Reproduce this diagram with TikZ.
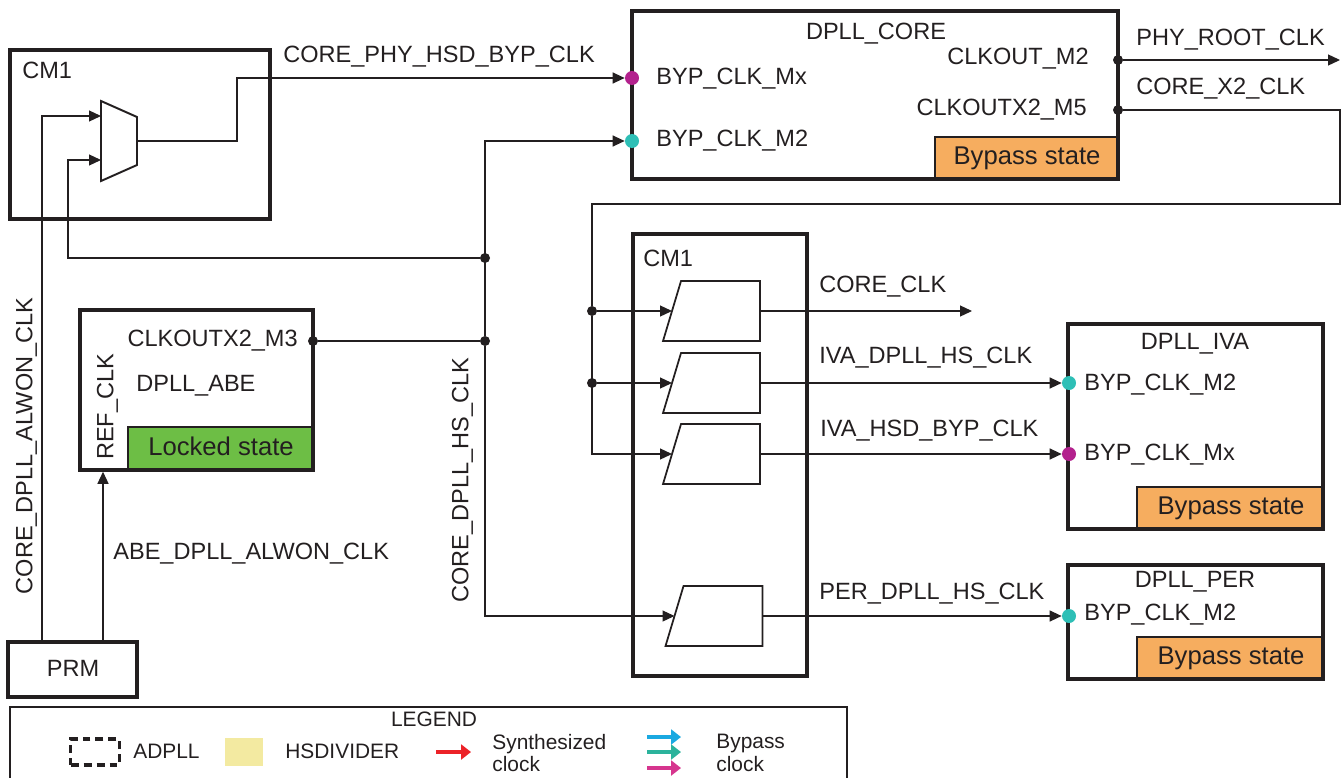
\documentclass[tikz,border=0pt]{standalone}
\usepackage{fontspec}
\setmainfont{Liberation Sans}
\usetikzlibrary{arrows.meta, positioning, fit}
\definecolor{ink}{HTML}{231F20}
\definecolor{bypassorange}{HTML}{F6AD5F}
\definecolor{lockedgreen}{HTML}{6DBE45}
\definecolor{pinmagenta}{HTML}{B3218D}
\definecolor{pincyan}{HTML}{2EBFB6}
\definecolor{hsdivyellow}{HTML}{F3EAA1}
\definecolor{synthred}{HTML}{EC2228}
\definecolor{bypblue}{HTML}{1AA9E1}
\definecolor{bypteal}{HTML}{2BB39C}
\definecolor{byppink}{HTML}{D6358E}
\newcommand{\lblfont}{\fontsize{13.4}{16}\selectfont}
\newcommand{\statefont}{\fontsize{14.6}{17}\selectfont}
\newcommand{\legfont}{\fontsize{11.9}{12.8}\selectfont}
\tikzstyle{block}    = [rectangle, draw=ink, line width=2pt, inner sep=0pt]
\tikzstyle{statebox} = [rectangle, draw=ink, line width=0.8pt, inner sep=0pt]
\tikzstyle{lbl}      = [inner sep=0pt, text height=0.716em, text depth=0pt]
\tikzstyle{statelbl} = [lbl, font=\statefont]
\tikzstyle{pinmx}    = [circle, fill=pinmagenta, inner sep=0pt, minimum size=0.28cm]
\tikzstyle{pinmtwo}  = [circle, fill=pincyan, inner sep=0pt, minimum size=0.28cm]
\tikzstyle{dot}      = [circle, fill=ink, inner sep=0pt, minimum size=0.2cm]
\tikzstyle{hsdiv}    = [rectangle, inner sep=0pt, outer sep=0pt, minimum width=1.94cm, minimum height=1.2cm]
\tikzstyle{hsdivline}= [draw=ink, line width=1pt, line join=miter]
\tikzstyle{wire}     = [draw=ink, line width=0.7pt]
\tikzstyle{arrow}    = [wire, -{Triangle[length=0.24cm, width=0.22cm]}]
\tikzstyle{legarrow} = [line width=1.8pt, -{Triangle[length=0.2cm, width=0.3cm]}]

\begin{document}
\begin{tikzpicture}[x=0.02cm, y=-0.02cm, every node/.style={font=\lblfont, text=ink}]
  \useasboundingbox (0,0) rectangle (1344,777);

  % State boxes
  \node (coreByp) [statebox, fill=bypassorange, fit={(935,137) (1118,179)}] {};
  \node (abeLock) [statebox, fill=lockedgreen, fit={(128,427) (313,470)}] {};
  \node (ivaByp)  [statebox, fill=bypassorange, fit={(1137,487) (1323,529)}] {};
  \node (perByp)  [statebox, fill=bypassorange, fit={(1137,637) (1323,679)}] {};
  \node (coreBypLbl) [statelbl] at (1027,158) {Bypass state};
  \node (abeLockLbl) [statelbl] at (221,449)  {Locked state};
  \node (ivaBypLbl)  [statelbl] at (1231,508) {Bypass state};
  \node (perBypLbl)  [statelbl] at (1231,658) {Bypass state};

  % Blocks
  \node (cmA)  [block, fit={(10,50) (270,219)}] {};
  \node (core) [block, fit={(632,11) (1118,179)}] {};
  \node (abe)  [block, fit={(80,310) (313,470)}] {};
  \node (cmB)  [block, fit={(633,234) (807,676)}] {};
  \node (iva)  [block, fit={(1068,324) (1323,529)}] {};
  \node (per)  [block, fit={(1068,565) (1323,679)}] {};
  \node (prm)  [block, fit={(8,642) (137,697)}] {};
  \node (prmlbl) [lbl] at (73,670) {PRM};

  % Mux in CM1
  \draw[draw=ink, line width=1.1pt] (101,101) -- (137,117) -- (137,165) -- (101,181) -- cycle;
  \coordinate (muxa)   at (101,116);
  \coordinate (muxb)   at (101,160);
  \coordinate (muxout) at (137,141);

  % HS dividers in CM1
  \foreach \n/\x/\y in {d1/711.5/311, d2/711.5/383, d3/711.5/454, d4/714/616} {
    \node (\n) [hsdiv] at (\x,\y) {};
    \draw[hsdivline] ([xshift=0.36cm]\n.north west) -- (\n.north east)
      -- (\n.south east) -- (\n.south west) -- cycle;
  }

  % Block labels
  \node (cmAlbl)  [lbl, anchor=west] at (22,72)    {CM1};
  \node (cmBlbl)  [lbl, anchor=west] at (643,260)  {CM1};
  \node (corelbl) [lbl]              at (876,33)   {DPLL\_CORE};
  \node (abelbl)  [lbl, anchor=west] at (136,385)  {DPLL\_ABE};
  \node (ivalbl)  [lbl]              at (1195,343) {DPLL\_IVA};
  \node (perlbl)  [lbl]              at (1195,581) {DPLL\_PER};

  % Port labels
  \node (coreMxlbl) [lbl, anchor=west] at (656,78)   {BYP\_CLK\_Mx};
  \node (coreM2lbl) [lbl, anchor=west] at (656,140)  {BYP\_CLK\_M2};
  \node (m2outlbl)  [lbl, anchor=east] at (1089,58)  {CLKOUT\_M2};
  \node (m5outlbl)  [lbl, anchor=east] at (1087,109) {CLKOUTX2\_M5};
  \node (m3outlbl)  [lbl, anchor=east] at (298,340)  {CLKOUTX2\_M3};
  \node (reflbl)    [lbl, rotate=90]   at (107,407)  {REF\_CLK};
  \node (ivaM2lbl)  [lbl, anchor=west] at (1084,384) {BYP\_CLK\_M2};
  \node (ivaMxlbl)  [lbl, anchor=west] at (1084,454) {BYP\_CLK\_Mx};
  \node (perM2lbl)  [lbl, anchor=west] at (1084,614) {BYP\_CLK\_M2};

  % Pins and junctions
  \node (coreMx)   [pinmx]   at (632,78)   {};
  \node (coreM2)   [pinmtwo] at (632,141)  {};
  \node (coreOut2) [dot]     at (1118,60)  {};
  \node (coreOut5) [dot]     at (1118,110) {};
  \node (abeOut)   [dot]     at (313,341)  {};
  \node (ivaM2)    [pinmtwo] at (1069,383) {};
  \node (ivaMx)    [pinmx]   at (1069,454) {};
  \node (perM2)    [pinmtwo] at (1069,616) {};
  \node (j1) [dot] at (485,258) {};
  \node (j2) [dot] at (485,341) {};
  \node (j3) [dot] at (592,311) {};
  \node (j4) [dot] at (592,383) {};
  \coordinate (prmA) at (42,642);
  \coordinate (prmB) at (103,642);
  \coordinate (phyEnd) at (1340,60);
  \coordinate (coreClkEnd) at (972,311);

  % Signal labels
  \node (phyhsdlbl)  [lbl, anchor=west] at (283,56)   {CORE\_PHY\_HSD\_BYP\_CLK};
  \node (phyrootlbl) [lbl, anchor=west] at (1136,39)  {PHY\_ROOT\_CLK};
  \node (corextwo)   [lbl, anchor=west] at (1136,88)  {CORE\_X2\_CLK};
  \node (coreclklbl) [lbl, anchor=west] at (819,286)  {CORE\_CLK};
  \node (ivahslbl)   [lbl, anchor=west] at (819,357)  {IVA\_DPLL\_HS\_CLK};
  \node (ivabyplbl)  [lbl, anchor=west] at (820,430)  {IVA\_HSD\_BYP\_CLK};
  \node (perhslbl)   [lbl, anchor=west] at (819,593)  {PER\_DPLL\_HS\_CLK};
  \node (abealwon)   [lbl, anchor=west] at (113,553)  {ABE\_DPLL\_ALWON\_CLK};
  \node (corealwon)  [lbl, rotate=90]   at (26,446)   {CORE\_DPLL\_ALWON\_CLK};
  \node (corehslbl)  [lbl, rotate=90]   at (462,480)  {CORE\_DPLL\_HS\_CLK};

  % PRM -> mux
  \draw[arrow] (prmA) |- (muxa);
  % PRM -> DPLL_ABE
  \draw[arrow] (prmB) -- (prmB |- abe.south);
  % mux -> DPLL_CORE
  \draw[arrow] (muxout) -- ++(100,0) |- (coreMx.west);
  % DPLL_ABE -> CORE_DPLL_HS_CLK
  \draw[wire] (abeOut) -- (j2);
  \draw[arrow] (j2) |- (coreM2.west);
  \draw[arrow] (j2) |- ([xshift=0.18cm]d4.west);
  \draw[arrow] (j1) -- ++(-417,0) |- (muxb);
  % DPLL_CORE outputs
  \draw[arrow] (coreOut2) -- (phyEnd);
  \draw[wire] (coreOut5) -- ++(222,0) -- ++(0,94) -| (j3);
  \draw[arrow] (j3) |- ([xshift=0.18cm]d3.west);
  \draw[arrow] (j3) -- ([xshift=0.18cm]d1.west);
  \draw[arrow] (j4) -- ([xshift=0.18cm]d2.west);
  % Dividers -> DPLLs
  \draw[arrow] (d1.east) -- (coreClkEnd);
  \draw[arrow] (d2.east) -- (ivaM2.west);
  \draw[arrow] (d3.east) -- (ivaMx.west);
  \draw[arrow] (d4.east) -- (perM2.west);

  % Legend
  \node (legend) [draw=ink, line width=0.8pt, inner sep=0pt, fit={(10,707) (847,800)}] {};
  \node (leglbl) [lbl, font=\legfont] at (434,720) {LEGEND};
  \node (adpllKey) [draw=ink, line width=2pt, dash pattern=on 0.16cm off 0.1cm,
                    minimum width=0.98cm, minimum height=0.52cm] at (95,752) {};
  \node (adpllLbl) [lbl, font=\legfont, anchor=west] at (133,752) {ADPLL};
  \node (hsdivKey) [fill=hsdivyellow, minimum width=0.76cm, minimum height=0.56cm] at (244,752) {};
  \node (hsdivLbl) [lbl, font=\legfont, anchor=west] at (285,752) {HSDIVIDER};
  \coordinate (synA) at (436,752);
  \coordinate (synB) at (471,752);
  \draw[legarrow, synthred] (synA) -- (synB);
  \node (synLbl) [font=\legfont, anchor=west, align=left, inner sep=0pt] at (492,753) {Synthesized\\clock};
  \foreach \c/\y in {bypblue/737, bypteal/752, byppink/768}
    \draw[legarrow, \c] (647,\y) -- (681,\y);
  \node (bypLbl) [font=\legfont, anchor=west, align=left, inner sep=0pt] at (716,753) {Bypass\\clock};

\end{tikzpicture}
\end{document}
